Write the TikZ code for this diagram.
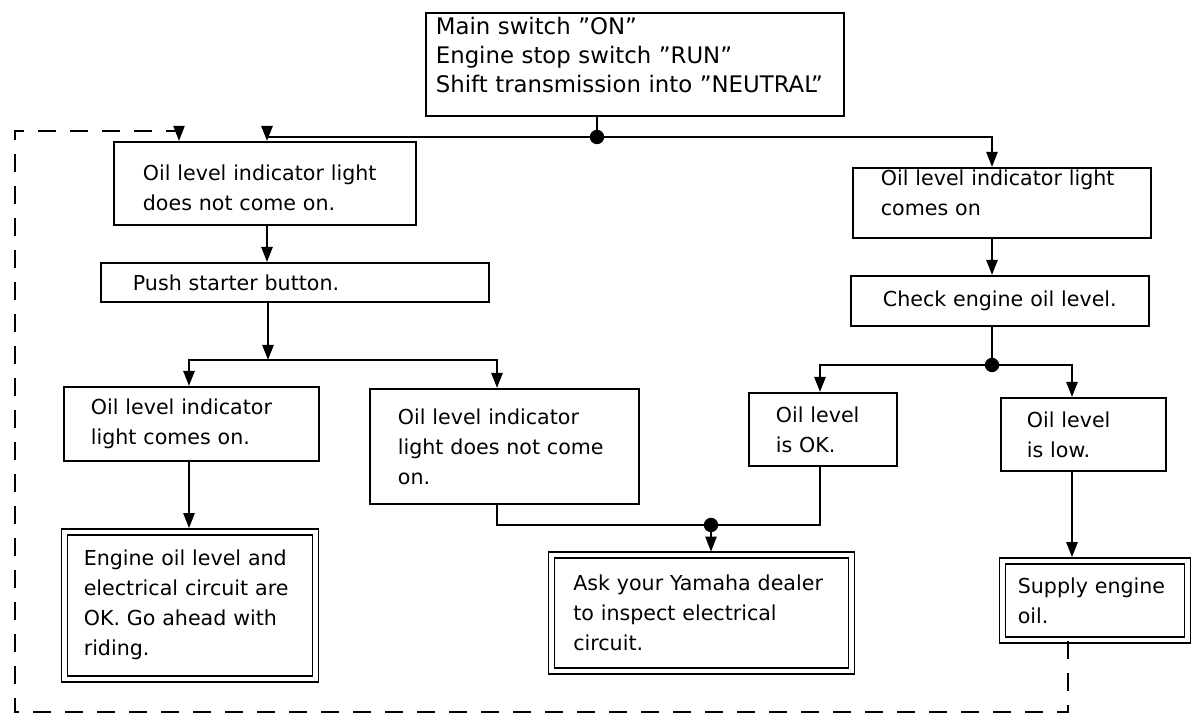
\documentclass[tikz,border=0pt]{standalone}
\usepackage{fontspec}
\setmainfont{DejaVu Sans}
\usetikzlibrary{arrows.meta}
\begin{document}
\begin{tikzpicture}[x=0.5pt,y=-0.5pt,
  box/.style={draw, line width=0.9pt, anchor=north west, align=left, inner ysep=0pt,
    font=\fontsize{10.3}{15}\selectfont},
  dbox/.style={box, double, double distance=2.2pt, line width=0.8pt},
  conn/.style={line width=1.2pt},
  arr/.style={conn, -{Triangle[width=5.5pt,length=7.5pt]}},
  loopline/.style={line width=1pt, dash pattern=on 9pt off 7pt},
  jdot/.style={fill=black}]
\fill[white] (0,0) rectangle (1191,721);
\useasboundingbox (0,0) rectangle (1191,721);

% boxes
\node[box, minimum width=209pt, minimum height=51.5pt, inner xsep=5pt, text width=199pt,
  font=\fontsize{11.4}{14.5}\selectfont, text height=9pt, text depth=39pt] (top) at (425,12)
  {Main switch ''ON''\\Engine stop switch ''RUN''\\Shift transmission into ''NEUTRAL''};
\node[box, minimum width=151pt, minimum height=41.5pt, inner xsep=14.5pt, text width=122pt,
  text height=11pt, text depth=14pt] (L1) at (113,141)
  {Oil level indicator light\\does not come on.};
\node[box, minimum width=194pt, minimum height=19.5pt, inner xsep=16pt, text width=162pt] (P) at (100,262)
  {Push starter button.};
\node[box, minimum width=127.5pt, minimum height=37pt, inner xsep=13.5pt, text width=100.5pt] (L2a) at (63,386)
  {Oil level indicator\\light comes on.};
\node[box, minimum width=134.5pt, minimum height=57.5pt, inner xsep=14pt, text width=106.5pt] (L2b) at (369,388)
  {Oil level indicator\\light does not come\\on.};
\node[dbox, minimum width=125.5pt, minimum height=73.5pt, inner xsep=9.75pt, text width=106pt] (D1) at (63.5,531)
  {Engine oil level and\\electrical circuit are\\OK. Go ahead with\\riding.};
\node[dbox, minimum width=150pt, minimum height=58pt, inner xsep=11pt, text width=128pt] (D2) at (550.5,554.5)
  {Ask your Yamaha dealer\\to inspect electrical\\circuit.};
\node[box, minimum width=149pt, minimum height=35pt, inner xsep=14pt, text width=121pt,
  text height=7.6pt, text depth=24.5pt] (R1) at (852,167)
  {Oil level indicator light\\comes on};
\node[box, minimum width=149pt, minimum height=25pt, inner xsep=16pt, text width=117pt] (R2) at (850,275)
  {Check engine oil level.};
\node[box, minimum width=74pt, minimum height=36.5pt, inner xsep=13.5pt, text width=47pt] (R3a) at (748,392)
  {Oil level\\is OK.};
\node[box, minimum width=82.5pt, minimum height=36.5pt, inner xsep=13pt, text width=56.5pt] (R3b) at (1000,397)
  {Oil level\\is low.};
\node[dbox, minimum width=92.5pt, minimum height=39.75pt, inner xsep=7.75pt, text width=77pt] (D3) at (1001.5,560)
  {Supply engine\\oil.};

% junctions and columns
\coordinate (j0) at (597,137);
\coordinate (cL) at (267,0);
\coordinate (cR) at (992,0);
\coordinate (j1) at (268,360);
\coordinate (c2a) at (189,0);
\coordinate (c2b) at (497,0);
\coordinate (j2) at (711,525);
\coordinate (cOK) at (820,0);
\coordinate (j3) at (992,365);
\coordinate (cLow) at (1072,0);
\coordinate (cDash) at (1068,0);
\coordinate (k1) at (1068,712);
\coordinate (k2) at (15,712);
\coordinate (k3) at (15,131);
\coordinate (cDash2) at (179,0);

% connectors
\draw[conn] (top.south -| j0) -- (j0);
\draw[arr] (j0) -| (L1.north -| cL);
\draw[arr] (j0) -| (R1.north -| cR);
\draw[arr] (L1.south -| cL) -- (P.north -| cL);
\draw[arr] (P.south -| j1) -- (j1);
\draw[arr] (j1) -| (L2a.north -| c2a);
\draw[arr] (j1) -| (L2b.north -| c2b);
\draw[arr, shorten >=1.4pt] (L2a.south -| c2a) -- (D1.north -| c2a);
\draw[conn] (L2b.south -| c2b) |- (j2);
\draw[conn] (j2) -| (R3a.south -| cOK);
\draw[arr, shorten >=1.4pt] (j2) -- (D2.north -| j2);
\draw[arr] (R1.south -| cR) -- (R2.north -| cR);
\draw[conn] (R2.south -| cR) -- (j3);
\draw[arr] (j3) -| (R3a.north -| cOK);
\draw[arr] (j3) -| (R3b.north -| cLow);
\draw[arr, shorten >=1.4pt] (R3b.south -| cLow) -- (D3.north -| cLow);
\draw[loopline, -{Triangle[width=5.5pt,length=7.5pt]}] (D3.south -| cDash) -- (k1) -- (k2) -- (k3) -| (L1.north -| cDash2);

\fill[jdot] (j0) circle (3.6pt);
\fill[jdot] (j2) circle (3.6pt);
\fill[jdot] (j3) circle (3.6pt);
\end{tikzpicture}
\end{document}
